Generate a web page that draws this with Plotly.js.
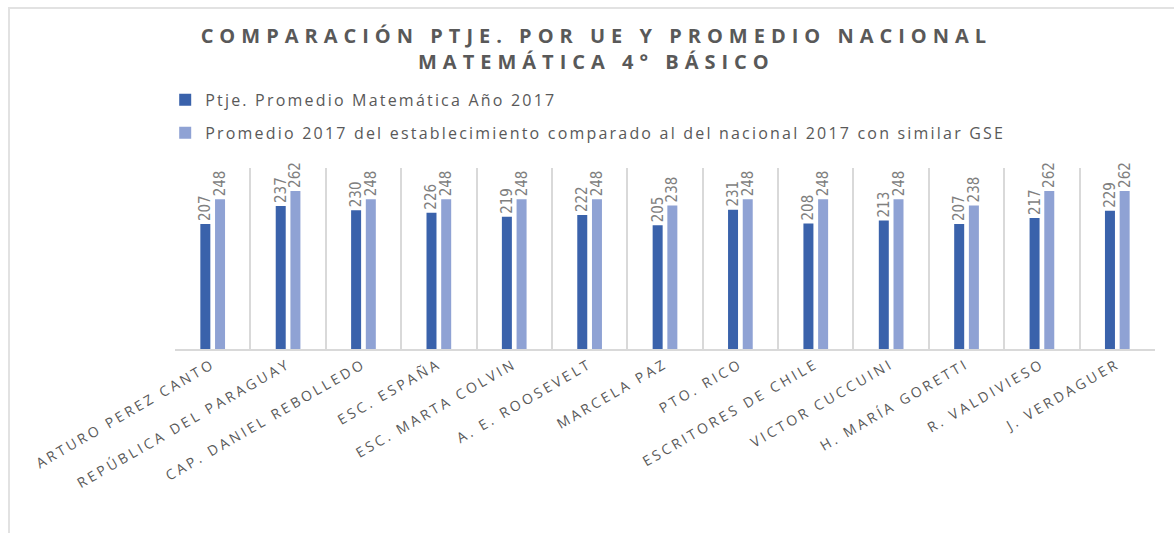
<!DOCTYPE html>
<html>
<head>
<meta charset="utf-8">
<script src="https://cdn.plot.ly/plotly-3.0.1.min.js"></script>
<style>
  body { margin: 0; background: #fff; }
  #chart { width: 1174px; height: 533px; }
  #frame {
    position: absolute; left: 8px; top: 7px; right: 0; bottom: 0;
    border-top: 2px solid #e2e2e2; border-left: 2px solid #e2e2e2;
    pointer-events: none;
  }
  /* the original is an Excel chart with widely spaced text;
     global rules so plotly's text measuring sees the spacing too */
  .gtitle { letter-spacing: 6px; }
  .legendtext { letter-spacing: 2.2px; }
  .xtick text { letter-spacing: 3px; }
</style>
</head>
<body>
<div id="chart"></div>
<div id="frame"></div>
<script>
// schools (UE)
const schools = [
    'ARTURO PEREZ CANTO', 'REPÚBLICA DEL PARAGUAY', 'CAP. DANIEL REBOLLEDO',
    'ESC. ESPAÑA', 'ESC. MARTA COLVIN', 'A. E. ROOSEVELT', 'MARCELA PAZ',
    'PTO. RICO', 'ESCRITORES DE CHILE', 'VICTOR CUCCUINI', 'H. MARÍA GORETTI',
    'R. VALDIVIESO', 'J. VERDAGUER'
];

// Ptje. Promedio Matemática Año 2017
const ptje2017 = [207, 237, 230, 226, 219, 222, 205, 231, 208, 213, 207, 217, 229];

// promedio nacional con similar GSE
const nacionalGSE = [248, 262, 248, 248, 248, 248, 238, 248, 248, 248, 238, 262, 262];

const labelFont = {
    family: 'Liberation Sans Narrow, DejaVu Sans Condensed, Arial Narrow, sans-serif',
    size: 15,
    color: '#7f7f7f'
};

let trace1 = {
    type: 'bar',
    x: schools,
    y: ptje2017,
    name: 'Ptje. Promedio Matemática Año 2017',
    marker: {color: '#3a62ab'},
    text: ptje2017.map(String),
    textposition: 'outside',
    textangle: -90,
    constraintext: 'none',
    textfont: labelFont,
    cliponaxis: false,
    legendgroup: 'a'
};

let trace2 = {
    type: 'bar',
    x: schools,
    y: nacionalGSE,
    name: 'Promedio 2017 del establecimiento comparado al del nacional 2017 con similar GSE',
    marker: {color: '#8fa2d4'},
    text: nacionalGSE.map(String),
    textposition: 'outside',
    textangle: -90,
    constraintext: 'none',
    textfont: labelFont,
    cliponaxis: false,
    legendgroup: 'b'
};

let layout = {
    width: 1174,
    height: 533,
    margin: {l: 175, r: 19, t: 168, b: 184},
    paper_bgcolor: '#ffffff',
    plot_bgcolor: '#ffffff',
    font: {family: 'Open Sans, Lato, sans-serif', color: '#595959'},
    title: {
        text: 'COMPARACIÓN PTJE. POR UE Y PROMEDIO NACIONAL<br>MATEMÁTICA 4° BÁSICO',
        font: {size: 20, color: '#595959', weight: 'bold', family: 'Open Sans, sans-serif'},
        x: 0.508,
        xanchor: 'center',
        y: 0.92,
        yanchor: 'middle'
    },
    barmode: 'group',
    bargap: 0.61,
    bargroupgap: 0.32,
    showlegend: true,
    legend: {
        orientation: 'v',
        x: -0.01,
        xanchor: 'left',
        y: 1.47,
        yanchor: 'top',
        font: {size: 16, color: '#595959', family: 'Open Sans, Lato, sans-serif'},
        tracegroupgap: 9,
        itemwidth: 30
    },
    xaxis: {
        type: 'category',
        tickson: 'boundaries',
        showgrid: true,
        gridcolor: '#d9d9d9',
        gridwidth: 2,
        showline: true,
        linecolor: '#d9d9d9',
        linewidth: 2,
        ticks: '',
        tickangle: -30,
        tickfont: {size: 14, color: '#595959', family: 'Open Sans, sans-serif'},
        range: [-0.5, 12.5]
    },
    yaxis: {
        range: [0, 300],
        showgrid: false,
        zeroline: false,
        showticklabels: false,
        showline: false
    }
};

Plotly.newPlot('chart', [trace1, trace2], layout, {displayModeBar: false});
</script>
</body>
</html>
